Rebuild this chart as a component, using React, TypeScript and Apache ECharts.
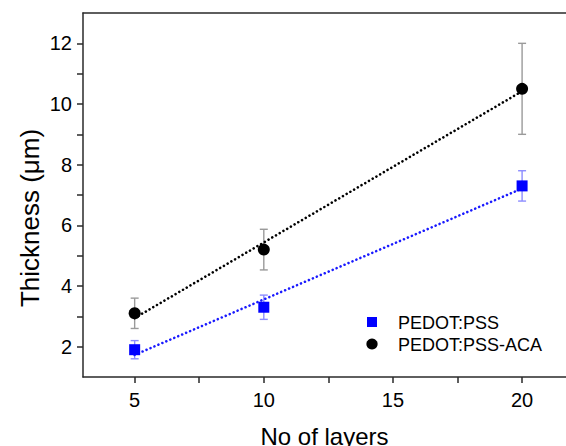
import React, { useEffect, useRef } from "react";
import * as echarts from "echarts";

// Number of deposited layers
const layers = [5, 10, 20];

// Film thickness (µm) and standard deviation for each film type
const pssThickness = [1.9, 3.3, 7.3];
const pssError = [0.3, 0.4, 0.5];
const acaThickness = [3.1, 5.2, 10.5];
const acaError = [0.5, 0.67, 1.5];

// Tick positions (labelled and unlabelled)
const xLabelTicks = [5, 10, 15, 20];
const xAllTicks = [5, 7.5, 10, 12.5, 15, 17.5, 20];
const yLabelTicks = [2, 4, 6, 8, 10, 12];
const yAllTicks = [2, 3, 4, 5, 6, 7, 8, 9, 10, 11, 12];

const seriesNames = ["PEDOT:PSS", "PEDOT:PSS-ACA"];

const FONT = "'Liberation Sans', Arial, Helvetica, sans-serif";
const AXIS_COLOR = "#2a2a2a";

// Least-squares straight line through the measured points
function linearFit(xs: number[], ys: number[]) {
  const n = xs.length;
  const mx = xs.reduce((a, b) => a + b, 0) / n;
  const my = ys.reduce((a, b) => a + b, 0) / n;
  let sxy = 0;
  let sxx = 0;
  for (let i = 0; i < n; i++) {
    sxy += (xs[i] - mx) * (ys[i] - my);
    sxx += (xs[i] - mx) * (xs[i] - mx);
  }
  const slope = sxy / sxx;
  const intercept = my - slope * mx;
  const x0 = Math.min(...xs);
  const x1 = Math.max(...xs);
  return [
    [x0, intercept + slope * x0],
    [x1, intercept + slope * x1],
  ];
}

function errorBarSeries(values: number[], errors: number[], color: string) {
  return {
    type: "custom",
    xAxisIndex: 0,
    yAxisIndex: 0,
    z: 2,
    silent: true,
    data: layers.map((x, i) => [x, values[i], errors[i]]),
    encode: { x: 0, y: 1 },
    renderItem: (_params: any, api: any) => {
      const x = api.value(0);
      const y = api.value(1);
      const e = api.value(2);
      const top = api.coord([x, y + e]);
      const bot = api.coord([x, y - e]);
      const half = 4;
      const style = { stroke: color, lineWidth: 1.4 };
      return {
        type: "group",
        children: [
          { type: "line", shape: { x1: top[0], y1: top[1], x2: bot[0], y2: bot[1] }, style },
          { type: "line", shape: { x1: top[0] - half, y1: top[1], x2: top[0] + half, y2: top[1] }, style },
          { type: "line", shape: { x1: bot[0] - half, y1: bot[1], x2: bot[0] + half, y2: bot[1] }, style },
        ],
      };
    },
  };
}

function fitLineSeries(values: number[], color: string) {
  return {
    type: "line",
    xAxisIndex: 0,
    yAxisIndex: 0,
    z: 3,
    silent: true,
    symbol: "none",
    data: linearFit(layers, values),
    lineStyle: { color, width: 2.6, type: [0.01, 4.3], cap: "round" },
  };
}

export default function App() {
  const ref = useRef<HTMLDivElement>(null);

  useEffect(() => {
    if (!ref.current) return;
    document.documentElement.style.overflow = "hidden";
    document.body.style.margin = "0";
    document.body.style.overflow = "hidden";

    const chart = echarts.init(ref.current, undefined, { renderer: "svg" });

    const tickLine = { color: AXIS_COLOR, width: 1.5 };
    const hidden = { show: false };
    const X_MIN = 3;
    const X_MAX = 21.7;

    chart.setOption({
      animation: false,
      backgroundColor: "#ffffff",
      textStyle: { fontFamily: FONT },
      grid: {
        left: 83,
        top: 13,
        right: 14,
        bottom: 69,
        containLabel: false,
        outerBoundsMode: "none",
        show: false,
      },
      xAxis: [
        {
          type: "value",
          min: X_MIN,
          max: X_MAX,
          position: "bottom",
          axisLine: { show: true, onZero: false, lineStyle: tickLine },
          axisTick: { show: true, customValues: xAllTicks, length: 6, lineStyle: tickLine },
          axisLabel: {
            customValues: xLabelTicks,
            fontSize: 20,
            color: "#000",
            margin: 13,
            fontFamily: FONT,
          },
          splitLine: hidden,
          name: "No of layers",
          nameLocation: "middle",
          nameGap: 47,
          nameTextStyle: { fontSize: 24, color: "#000", fontFamily: FONT },
        },
        {
          // upper frame line
          type: "value",
          min: X_MIN,
          max: X_MAX,
          position: "top",
          axisLine: { show: true, onZero: false, lineStyle: tickLine },
          axisTick: hidden,
          axisLabel: hidden,
          splitLine: hidden,
        },
      ],
      yAxis: [
        {
          type: "value",
          min: 1,
          max: 13,
          position: "left",
          axisLine: { show: true, onZero: false, lineStyle: tickLine },
          axisTick: { show: true, customValues: yAllTicks, length: 6, lineStyle: tickLine },
          axisLabel: {
            customValues: yLabelTicks,
            fontSize: 20,
            color: "#000",
            margin: 11,
            fontFamily: FONT,
          },
          splitLine: hidden,
        },
      ],
      series: [
        fitLineSeries(pssThickness, "#1a1aff"),
        fitLineSeries(acaThickness, "#000000"),
        errorBarSeries(pssThickness, pssError, "#8c8cff"),
        errorBarSeries(acaThickness, acaError, "#9a9a9a"),
        {
          type: "scatter",
          name: seriesNames[0],
          xAxisIndex: 0,
          yAxisIndex: 0,
          z: 5,
          symbol: "rect",
          symbolSize: 11,
          itemStyle: { color: "#0000ff", opacity: 1 },
          data: layers.map((x, i) => [x, pssThickness[i]]),
        },
        {
          type: "scatter",
          name: seriesNames[1],
          xAxisIndex: 0,
          yAxisIndex: 0,
          z: 5,
          symbol: "circle",
          symbolSize: 12,
          itemStyle: { color: "#000000", opacity: 1 },
          data: layers.map((x, i) => [x, acaThickness[i]]),
        },
      ],
      graphic: [
        {
          type: "text",
          x: 30,
          y: 218,
          rotation: Math.PI / 2,
          style: {
            text: "Thickness (\u03bcm)",
            font: `26px ${FONT}`,
            fill: "#000",
            textAlign: "center",
            textVerticalAlign: "middle",
          },
        },
        {
          type: "rect",
          shape: { x: 367, y: 317, width: 10, height: 10 },
          style: { fill: "#0000ff" },
        },
        {
          type: "circle",
          shape: { cx: 372, cy: 344, r: 5.6 },
          style: { fill: "#000000" },
        },
        {
          type: "text",
          x: 398,
          y: 323,
          style: {
            text: seriesNames[0],
            font: `18px ${FONT}`,
            fill: "#000",
            textVerticalAlign: "middle",
          },
        },
        {
          type: "text",
          x: 398,
          y: 345,
          style: {
            text: seriesNames[1],
            font: `18px ${FONT}`,
            fill: "#000",
            textVerticalAlign: "middle",
          },
        },
      ],
    });

    return () => chart.dispose();
  }, []);

  return (
    <div
      ref={ref}
      style={{ position: "absolute", left: 0, top: 0, width: 580, height: 446, overflow: "hidden" }}
    />
  );
}
